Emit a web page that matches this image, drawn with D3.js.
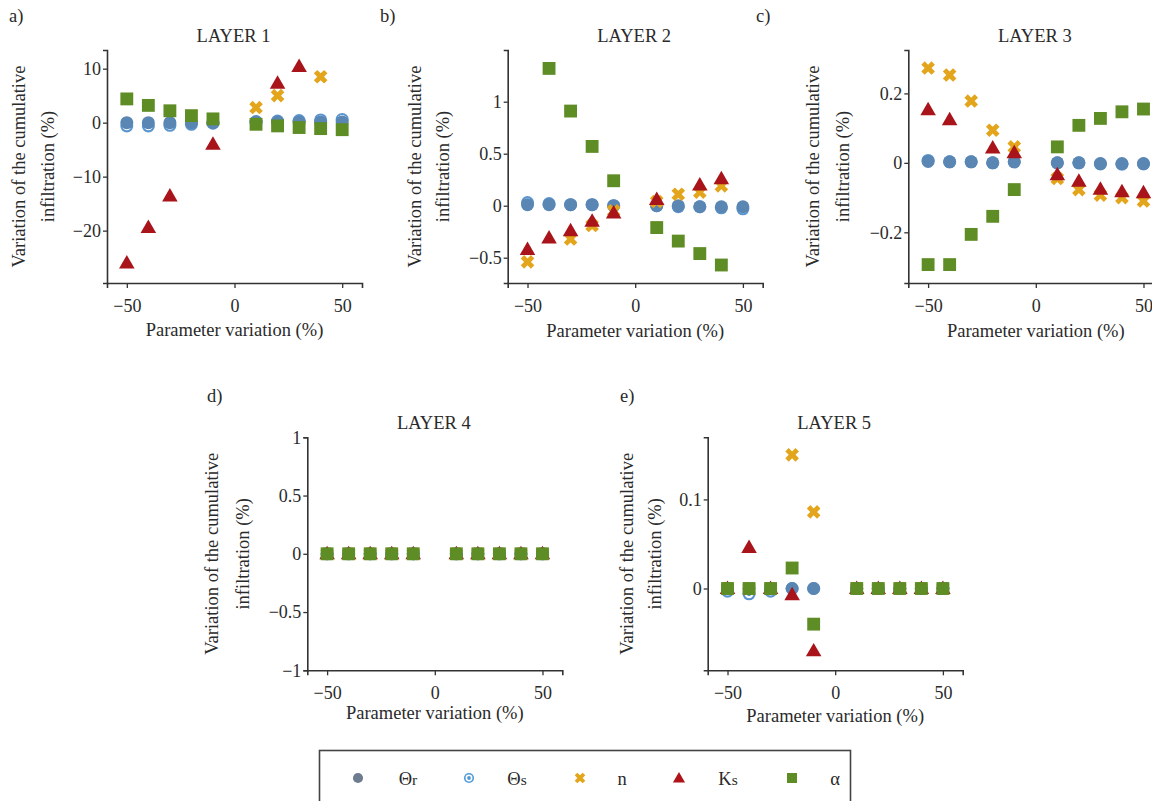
<!DOCTYPE html>
<html><head><meta charset="utf-8">
<script src="https://cdn.jsdelivr.net/npm/d3@7"></script>
<style>
body{margin:0;background:#fff}
</style>
</head><body><svg id="chart" width="1152" height="801"></svg>
<script>
// ---------- DATA ----------
const paramVariation = [-50, -40, -30, -20, -10, 10, 20, 30, 40, 50];
const xTicks = [-50, 0, 50];

// Layer 1
const L1_thetaR = [0, 0, 0, 0, 0, 0.1, 0.1, 0.1, 0.1, 0.1];
const L1_thetaS = [-0.6, -0.6, -0.5, -0.3, -0.1, 0.2, 0.3, 0.4, 0.5, 0.6];
const L1_n      = [null, null, null, null, null, 2.8, 5.0, null, 8.5, null];
const L1_Ks     = [-26.0, -19.4, -13.6, null, -4.0, null, 7.3, 10.4, null, null];
const L1_alpha  = [4.4, 3.2, 2.2, 1.3, 0.7, -0.3, -0.6, -0.9, -1.1, -1.3];
const L1_ticks  = [-20, -10, 0, 10];

// Layer 2
const L2_thetaR = [0.01, 0.01, 0.01, 0.01, 0, 0, 0, -0.01, -0.01, -0.01];
const L2_thetaS = [0.03, 0.02, 0.01, 0.01, 0, 0, -0.01, -0.01, -0.02, -0.03];
const L2_n      = [-0.54, null, -0.32, -0.19, -0.05, 0.04, 0.11, 0.13, 0.19, null];
const L2_Ks     = [-0.42, -0.31, -0.24, -0.15, -0.07, 0.06, null, 0.20, 0.26, null];
const L2_alpha  = [null, 1.32, 0.91, 0.57, 0.24, -0.21, -0.34, -0.46, -0.57, null];
const L2_ticks  = [-0.5, 0, 0.5, 1];

// Layer 3
const L3_thetaR = [0.004, 0.003, 0.003, 0, 0.003, 0, 0, -0.002, -0.002, -0.002];
const L3_thetaS = [0.007, 0.003, 0.003, 0, 0.003, 0, 0, -0.003, -0.004, -0.003];
const L3_n      = [0.273, 0.253, 0.178, 0.094, 0.046, -0.045, -0.077, -0.093, -0.100, -0.110];
const L3_Ks     = [0.153, 0.124, null, 0.043, 0.029, -0.034, -0.053, -0.076, -0.083, -0.086];
const L3_alpha  = [-0.293, -0.293, -0.206, -0.154, -0.077, 0.046, 0.108, 0.128, 0.147, 0.155];
const L3_ticks  = [-0.2, 0, 0.2];

// Layer 4
const L4_thetaR = [0, 0, 0, 0, 0, 0, 0, 0, 0, 0];
const L4_thetaS = [0, 0, 0, 0, 0, 0, 0, 0, 0, 0];
const L4_n      = [0, 0, 0, 0, 0, 0, 0, 0, 0, 0];
const L4_Ks     = [0, 0, 0, 0, 0, 0, 0, 0, 0, 0];
const L4_alpha  = [0, 0, 0, 0, 0, 0, 0, 0, 0, 0];
const L4_ticks  = [-1, -0.5, 0, 0.5, 1];

// Layer 5
const L5_thetaR = [0, 0, 0, 0, 0, 0, 0, 0, 0, 0];
const L5_thetaS = [-0.003, -0.006, -0.003, 0, 0, 0, 0, 0, 0, 0];
const L5_n      = [0, 0, 0, 0.150, 0.086, 0, 0, 0, 0, 0];
const L5_Ks     = [0, 0.046, 0, -0.007, -0.070, 0, 0, 0, 0, 0];
const L5_alpha  = [0, 0, 0, 0.023, -0.040, 0, 0, 0, 0, 0];
const L5_ticks  = [0, 0.1];

const panelLabels = ["a)", "b)", "c)", "d)", "e)"];
const layerTitles = ["LAYER 1", "LAYER 2", "LAYER 3", "LAYER 4", "LAYER 5"];
const seriesKeys = ["thetaR", "thetaS", "n", "Ks", "alpha"];
const xTitle = "Parameter variation (%)";
const yTitleLines = ["Variation of the cumulative", "infiltration (%)"];

// ---------- STYLE / LAYOUT ----------
const FONT = '"Liberation Serif", "DejaVu Serif", serif';
const TXT = "#2a2a2a";
const colors = {thetaR: "#5a86b3", thetaS: "#5b95cf", n: "#e3a51c", Ks: "#a8141a", alpha: "#5e8c25"};
const legendColors = {thetaR: "#6d7c8e", thetaS: "#4f9ad6", n: "#e3a51c", Ks: "#b0121a", alpha: "#5e8c25"};

const layers = [
  {d: [L1_thetaR, L1_thetaS, L1_n, L1_Ks, L1_alpha], ticks: L1_ticks, dom: [-29.7, 13.46],
   x0: 107, y0: 50, yt: [19, 48], lab: [9, 22], xt: 53},
  {d: [L2_thetaR, L2_thetaS, L2_n, L2_Ks, L2_alpha], ticks: L2_ticks, dom: [-0.743, 1.497],
   x0: 507.7, y0: 50, yt: [415, 443], lab: [380, 22], xt: 54},
  {d: [L3_thetaR, L3_thetaS, L3_n, L3_Ks, L3_alpha], ticks: L3_ticks, dom: [-0.346, 0.325],
   x0: 908.3, y0: 50, yt: [813, 843], lab: [756, 22], xt: 54},
  {d: [L4_thetaR, L4_thetaS, L4_n, L4_Ks, L4_alpha], ticks: L4_ticks, dom: [-1, 1],
   x0: 307.3, y0: 437.3, yt: [212, 243], lab: [207, 402], xt: 49},
  {d: [L5_thetaR, L5_thetaS, L5_n, L5_Ks, L5_alpha], ticks: L5_ticks, dom: [-0.0918, 0.1697],
   x0: 707.7, y0: 437.3, yt: [627, 655], lab: [620, 402], xt: 52}
];
const W = 255, H = 233;
const FS_TICK = 18, FS_TITLE = 18.5;

const svg = d3.select("#chart");

function txt(sel, size) {
  return sel.attr("font-family", FONT).style("font-family", FONT)
    .attr("font-size", size).attr("fill", TXT);
}

function drawMarker(g, key, x, y, big) {
  const s = big ? 1.05 : 0.82;
  if (key === "thetaR") {
    g.append("circle").attr("cx", x).attr("cy", y).attr("r", 6.2 * s).attr("fill", big ? colors.thetaR : legendColors.thetaR);
  } else if (key === "thetaS") {
    const c = big ? colors.thetaS : legendColors.thetaS;
    g.append("circle").attr("cx", x).attr("cy", y).attr("r", 6.2 * s).attr("fill", c);
    g.append("circle").attr("cx", x).attr("cy", y).attr("r", 4.2 * s).attr("fill", "#fff");
    g.append("circle").attr("cx", x).attr("cy", y).attr("r", 2.3 * s).attr("fill", c);
  } else if (key === "n") {
    g.append("path").attr("d", d3.symbol(d3.symbolCross, 105 * s * s)())
      .attr("transform", `translate(${x},${y}) rotate(45)`).attr("fill", big ? colors.n : legendColors.n);
  } else if (key === "Ks") {
    g.append("path").attr("d", d3.symbol(d3.symbolTriangle, 95 * s * s)())
      .attr("transform", `translate(${x},${y + 1})`).attr("fill", big ? colors.Ks : legendColors.Ks);
  } else if (key === "alpha") {
    g.append("path").attr("d", d3.symbol(d3.symbolSquare, 150 * s * s)())
      .attr("transform", `translate(${x},${y})`).attr("fill", big ? colors.alpha : legendColors.alpha);
  }
}

// draw order: thetaS, thetaR, n, Ks, alpha
const drawOrder = [1, 0, 2, 3, 4];

layers.forEach((L, i) => {
  const x = d3.scaleLinear().domain([-59.2, 59.2]).range([L.x0, L.x0 + W]);
  const y = d3.scaleLinear().domain(L.dom).range([L.y0 + H, L.y0]);
  const g = svg.append("g");

  // axes
  const xa = g.append("g").attr("transform", `translate(0,${L.y0 + H})`)
    .call(d3.axisBottom(x).tickValues(xTicks).tickSizeOuter(0).tickSize(5).tickPadding(11));
  const ya = g.append("g").attr("transform", `translate(${L.x0},0)`)
    .call(d3.axisLeft(y).tickValues(L.ticks).tickSizeOuter(0).tickSize(4).tickPadding(2).tickFormat(d3.format("")));
  [xa, ya].forEach(a => {
    a.attr("font-family", FONT);
    a.selectAll("path.domain").attr("stroke", "#333").attr("stroke-width", 1.6);
    a.selectAll(".tick line").attr("stroke", "#333").attr("stroke-width", 1.3);
    txt(a.selectAll(".tick text"), FS_TICK);
  });

  // titles
  txt(g.append("text"), FS_TITLE).attr("x", L.x0 + W / 2 - 1).attr("y", L.y0 - 8)
    .attr("text-anchor", "middle").text(layerTitles[i]);
  txt(g.append("text"), FS_TITLE).attr("x", L.lab[0]).attr("y", L.lab[1]).text(panelLabels[i]);
  txt(g.append("text"), FS_TITLE).attr("x", L.x0 + W / 2).attr("y", L.y0 + H + L.xt)
    .attr("text-anchor", "middle").text(xTitle);
  yTitleLines.forEach((t, k) => {
    txt(g.append("text"), FS_TITLE)
      .attr("transform", `translate(${L.yt[k] + 6},${L.y0 + H / 2}) rotate(-90)`)
      .attr("text-anchor", "middle").text(t);
  });

  // points
  const pts = g.append("g");
  drawOrder.forEach(si => {
    const key = seriesKeys[si];
    L.d[si].forEach((v, j) => {
      if (v === null) return;
      drawMarker(pts, key, x(paramVariation[j]), y(v), true);
    });
  });
});

// ---------- LEGEND ----------
const leg = svg.append("g");
leg.append("rect").attr("x", 319.5).attr("y", 750.5).attr("width", 531).attr("height", 60)
  .attr("fill", "none").attr("stroke", "#444").attr("stroke-width", 1.6);
const legMarkerX = [358, 469, 580, 679, 792];
const legLabelX = [408, 517, 622, 728, 835];
const legLabels = [["Θ", "r"], ["Θ", "s"], ["n", ""], ["K", "s"], ["α", ""]];
seriesKeys.forEach((key, i) => {
  drawMarker(leg, key, legMarkerX[i], 778, false);
  const t = txt(leg.append("text"), FS_TITLE).attr("x", legLabelX[i]).attr("y", 785)
    .attr("text-anchor", "middle");
  t.append("tspan").text(legLabels[i][0]);
  if (legLabels[i][1]) t.append("tspan").attr("font-size", FS_TITLE - 3).text(legLabels[i][1]);
});
</script>
</body></html>
